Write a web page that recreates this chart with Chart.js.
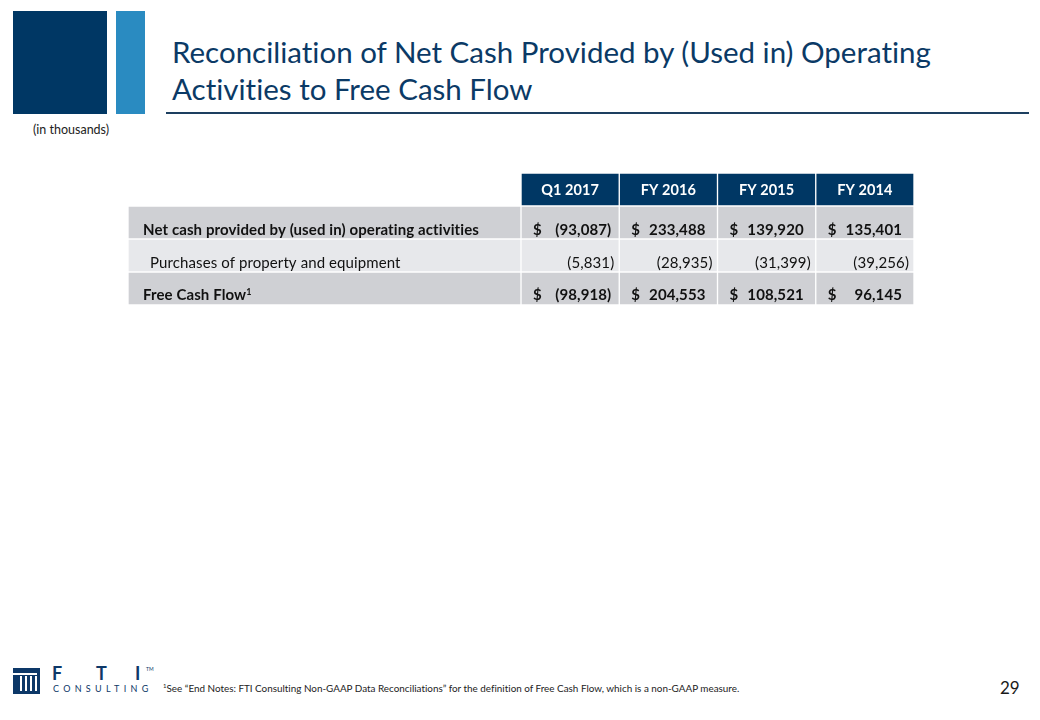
<!DOCTYPE html>
<html>
<head>
<meta charset="utf-8">
<script src="https://cdn.jsdelivr.net/npm/chart.js@4"></script>
<style>
  body { margin: 0; background: #fff; font-family: Lato, "Open Sans", sans-serif; font-variant-ligatures: none; }
  #page { position: relative; width: 1040px; height: 720px; overflow: hidden; }
  .abs { position: absolute; }
  #title { left: 172px; top: 33px; font-size: 29.5px; line-height: 37px; color: #0b3a66; white-space: nowrap; }
  #rule { left: 166px; top: 112px; width: 863px; height: 2px; background: #1d3f60; }
  #units { left: 33px; top: 123px; font-size: 12.5px; line-height: 14px; color: #222; }
  #note { left: 163px; top: 680px; font-size: 9.9px; line-height: 12px; color: #222; white-space: nowrap; }
  #pageNo { left: 1000px; top: 678px; font-size: 17px; line-height: 20px; color: #1a1a1a; }
  #table { left: 128px; top: 173px; }
  .logoTxt { color: #0d3868; white-space: nowrap; font-weight: bold; font-size: 18px; line-height: 18px; }
</style>
</head>
<body>
<div id="page">
  <div class="abs" style="left:13px;top:11px;width:94px;height:103px;background:#003764"></div>
  <div class="abs" style="left:116px;top:11px;width:29px;height:103px;background:#2a8bc1"></div>
  <div id="title" class="abs">Reconciliation of Net Cash Provided by (Used in) Operating<br>Activities to Free Cash Flow</div>
  <div id="rule" class="abs"></div>
  <div id="units" class="abs">(in thousands)</div>

  <canvas id="table" class="abs" width="786" height="132"></canvas>

  <!-- logo -->
  <div class="abs" style="left:13px;top:668px;width:27px;height:26px;background:#0d3868"></div>
  <div class="abs" style="left:17px;top:676px;width:20px;height:15px;background:repeating-linear-gradient(90deg,#0d3868 0 3px,#fff 3px 5px)"></div>
  <div class="abs" style="left:13px;top:673px;width:24px;height:2px;background:#fff"></div>
  <div class="abs logoTxt" style="left:52px;top:664px">F</div>
  <div class="abs logoTxt" style="left:96px;top:664px">T</div>
  <div class="abs logoTxt" style="left:135px;top:664px">I</div>
  <div class="abs" style="left:146px;top:666px;font-size:5px;line-height:6px;color:#0d3868">TM</div>
  <div class="abs" style="left:53px;top:684px;font-size:9px;line-height:10px;letter-spacing:4.3px;color:#0d3868">CONSULTIN<span style="letter-spacing:0">G</span></div>

  <div id="note" class="abs"><sup style="font-size:6px">1</sup>See “End Notes: FTI Consulting Non-GAAP Data Reconciliations” for the definition of Free Cash Flow, which is a non-GAAP measure.</div>
  <div id="pageNo" class="abs">29</div>
</div>

<script>
  // table data
  const columns = ['Q1 2017', 'FY 2016', 'FY 2015', 'FY 2014'];
  const rowLabels = [
    'Net cash provided by (used in) operating activities',
    'Purchases of property and equipment',
    'Free Cash Flow'
  ];
  const operatingCash = [-93087, 233488, 139920, 135401];
  const purchases = [-5831, -28935, -31399, -39256];
  const freeCashFlow = [-98918, 204553, 108521, 96145];

  const rowValues = [operatingCash, purchases, freeCashFlow];
  const boldRow = [true, false, true];
  const dollarRow = [true, false, true];

  const navy = '#003764';
  const gray = '#cfd0d4';
  const lightGray = '#e7e8eb';

  // label column spans 4 units, each year column 1 unit
  const edges = [0, 4, 5, 6, 7, 8];
  const bands = ['header'].concat(rowLabels);

  function fmt(n) {
    const s = Math.abs(n).toLocaleString('en-US');
    return n < 0 ? '(' + s + ')' : s;
  }

  const datasets = edges.slice(0, -1).map((start, c) => ({
    data: bands.map(() => [start, edges[c + 1]]),
    backgroundColor: bands.map((b, r) => {
      if (r === 0) return c === 0 ? 'rgba(0,0,0,0)' : navy;
      return r === 2 ? lightGray : gray;
    }),
    borderColor: '#ffffff',
    borderWidth: 1,
    borderSkipped: false,
    grouped: false,
    barPercentage: 1,
    categoryPercentage: 1
  }));

  const tableText = {
    id: 'tableText',
    afterDatasetsDraw(chart) {
      const ctx = chart.ctx;
      ctx.save();
      ctx.letterSpacing = '0.1px'; // stops Lato's "ti" ligature
      ctx.textBaseline = 'alphabetic';
      for (let r = 0; r < bands.length; r++) {
        for (let c = 0; c < edges.length - 1; c++) {
          const el = chart.getDatasetMeta(c).data[r];
          const p = el.getProps(['x', 'base', 'y', 'height'], true);
          const left = Math.min(p.x, p.base);
          const right = Math.max(p.x, p.base);
          const bottom = p.y + p.height / 2;
          if (r === 0) {
            if (c === 0) continue;
            ctx.fillStyle = '#ffffff';
            ctx.font = 'bold 14.5px Lato';
            ctx.textAlign = 'center';
            ctx.textBaseline = 'middle';
            ctx.fillText(columns[c - 1], (left + right) / 2, p.y + 1);
            ctx.textBaseline = 'alphabetic';
            continue;
          }
          const i = r - 1;
          const base = bottom - (i === 2 ? 5 : 4);
          ctx.fillStyle = '#111';
          ctx.font = (boldRow[i] ? 'bold ' : '') + '15px Lato';
          if (c === 0) {
            ctx.textAlign = 'left';
            const tx = left + (boldRow[i] ? 15 : 22);
            ctx.fillText(rowLabels[i], tx, base);
            if (i === 2) {
              const w = ctx.measureText(rowLabels[i]).width;
              ctx.font = 'bold 9px Lato';
              ctx.fillText('1', tx + w, base - 5);
            }
            continue;
          }
          const v = rowValues[i][c - 1];
          if (dollarRow[i]) {
            ctx.textAlign = 'left';
            ctx.fillText('$', left + 12, base);
          }
          ctx.textAlign = 'right';
          const pad = v < 0 ? (boldRow[i] ? 8 : 5) : 12;
          ctx.fillText(fmt(v), right - pad, base);
        }
      }
      ctx.restore();
    }
  };

  new Chart(document.getElementById('table'), {
    type: 'bar',
    data: { labels: bands, datasets: datasets },
    options: {
      indexAxis: 'y',
      responsive: false,
      animation: false,
      events: [],
      layout: { padding: 0 },
      plugins: { legend: { display: false }, tooltip: { enabled: false } },
      scales: {
        x: { type: 'linear', min: 0, max: 8, display: false },
        y: { type: 'category', display: false, offset: true }
      }
    },
    plugins: [tableText]
  });
</script>
</body>
</html>
